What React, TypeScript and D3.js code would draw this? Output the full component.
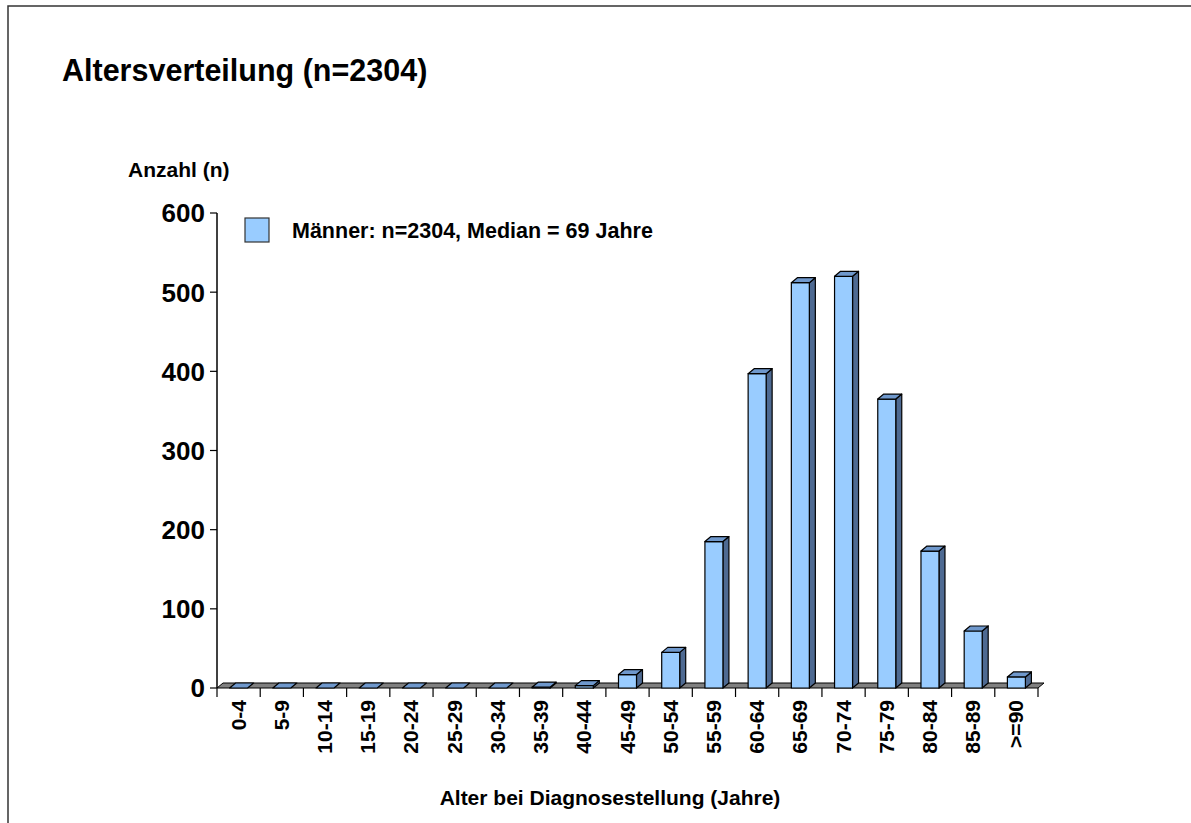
import React from "react";
import * as d3 from "d3";

const categories = ["0-4","5-9","10-14","15-19","20-24","25-29","30-34","35-39","40-44","45-49","50-54","55-59","60-64","65-69","70-74","75-79","80-84","85-89",">=90"];
const counts = [0,0,0,0,0,0,0,1,3,17,45,185,397,512,520,365,173,72,14];
const yTicks = [0,100,200,300,400,500,600];
const title = "Altersverteilung (n=2304)";
const yTitle = "Anzahl (n)";
const xTitle = "Alter bei Diagnosestellung (Jahre)";
const legendLabel = "Männer: n=2304, Median = 69 Jahre";

const W = 1191, H = 823;
const FONT = "'Liberation Sans', Arial, Helvetica, sans-serif";

export default function App() {
  const x = d3.scaleBand<string>().domain(categories).range([217, 1038]).padding(0);
  const y = d3.scaleLinear().domain([0, 600]).range([688, 213]);
  const dx = 6, dy = -5, bw = 18;
  const front = "#99CCFF", side = "#4E6A92", top = "#6F98CC";

  const floorPts = [
    [217, 688], [1038, 688], [1038 + dx, 688 + dy], [217 + dx, 688 + dy]
  ].map(p => p.join(",")).join(" ");

  return (
    <div style={{ position: "fixed", left: 0, top: 0 }}>
      <svg width={W} height={H} style={{ display: "block", fontFamily: FONT }}>
        <rect x={0} y={0} width={W} height={H} fill="#fff" />
        <rect x={8} y={6} width={W + 20} height={H + 20} fill="none" stroke="#333" strokeWidth={1.5} />
        <text x={62} y={81} fontSize={30.5} fontWeight="bold" fill="#000">{title}</text>
        <text x={128} y={177} fontSize={21} fontWeight="bold" fill="#000">{yTitle}</text>

        {/* floor */}
        <polygon points={floorPts} fill="#808080" stroke="#000" strokeWidth={1} />

        {/* y axis */}
        <line x1={217} y1={y(600)} x2={217} y2={688} stroke="#000" strokeWidth={1.5} />
        {yTicks.map(t => (
          <g key={t}>
            <line x1={210} x2={217} y1={y(t)} y2={y(t)} stroke="#000" strokeWidth={1.2} />
            <text x={205} y={y(t)} dy="0.36em" textAnchor="end" fontSize={26} fontWeight="bold">{t}</text>
          </g>
        ))}

        {/* x ticks */}
        {categories.concat(["_end"]).map((c, i) => {
          const xx = 217 + i * x.bandwidth();
          return <line key={c} x1={xx} x2={xx} y1={688} y2={697} stroke="#000" strokeWidth={1.2} />;
        })}

        {/* bars */}
        {categories.map((c, i) => {
          const cx = (x(c) as number) + x.bandwidth() / 2;
          const x0 = cx - bw / 2, x1 = cx + bw / 2;
          const yt = y(counts[i]);
          const yb = 688;
          const topPts = [[x0, yt], [x1, yt], [x1 + dx, yt + dy], [x0 + dx, yt + dy]].map(p => p.join(",")).join(" ");
          const sidePts = [[x1, yt], [x1 + dx, yt + dy], [x1 + dx, yb + dy], [x1, yb]].map(p => p.join(",")).join(" ");
          return (
            <g key={c} stroke="#000" strokeWidth={1.2} strokeLinejoin="round">
              {counts[i] > 0 && <polygon points={sidePts} fill={side} />}
              {counts[i] > 0 && <rect x={x0} y={yt} width={bw} height={yb - yt} fill={front} />}
              <polygon points={topPts} fill={top} />
            </g>
          );
        })}

        {/* x labels */}
        {categories.map(c => {
          const cx = (x(c) as number) + x.bandwidth() / 2;
          return (
            <text key={c} transform={`translate(${cx + 7},700) rotate(-90)`} textAnchor="end" fontSize={21} fontWeight="bold">{c}</text>
          );
        })}

        {/* legend */}
        <rect x={245} y={218} width={24} height={24} fill={front} stroke="#333" strokeWidth={1.2} />
        <text x={292} y={238} fontSize={21.5} fontWeight="bold">{legendLabel}</text>

        <text x={610} y={805} textAnchor="middle" fontSize={21} fontWeight="bold">{xTitle}</text>
      </svg>
    </div>
  );
}
